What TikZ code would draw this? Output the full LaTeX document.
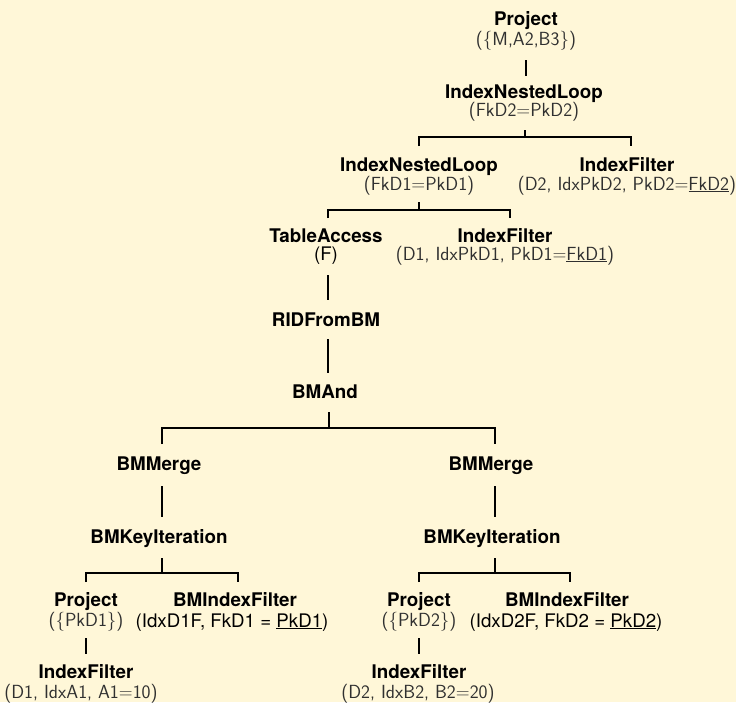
\documentclass[tikz,border=0pt]{standalone}
\usepackage{fontspec}
\setmainfont{TeX Gyre Heros}
\definecolor{paper}{RGB}{255,247,216}
\definecolor{argtext}{RGB}{48,48,48}
\newcommand\opfont{\fontsize{18.8}{22}\selectfont\bfseries}
\newcommand\argfont{\fontsize{19}{22}\selectfont\sffamily}
\newcommand\hargfont{\fontsize{18.7}{22}\selectfont}
\begin{document}
\begin{tikzpicture}[x=1pt,y=-1pt,
  op/.style={font=\opfont,anchor=base,inner sep=0pt},
  arg/.style={font=\argfont,text=argtext,anchor=base,inner sep=0pt},
  harg/.style={font=\hargfont,anchor=base,inner sep=0pt},
  edge/.style={line width=2.6pt,line join=miter,line cap=butt}]
\fill[paper] (0,0) rectangle (736,702);
\useasboundingbox (0,0) rectangle (736,702);

% operators and their arguments
\node[op]  (prj)   at (526,25)  {Project};
\node[arg] (prja)  at (526,45)  {(\{M,A2,B3\})};
\node[op]  (inlA)  at (524,98)  {IndexNestedLoop};
\node[arg] (inlAa) at (524,116) {(FkD2=PkD2)};
\node[op]  (inlB)  at (419,171) {IndexNestedLoop};
\node[arg] (inlBa) at (419,190) {(FkD1=PkD1)};
\node[op]  (ifD2)  at (627,171) {IndexFilter};
\node[arg] (ifD2a) at (627,190) {(D2, IdxPkD2, PkD2=\underline{FkD2})};
\node[op]  (tac)   at (326,242) {TableAccess};
\node[harg](taca)  at (326,260) {(F)};
\node[op]  (ifD1)  at (505,242) {IndexFilter};
\node[arg] (ifD1a) at (505,260) {(D1, IdxPkD1, PkD1=\underline{FkD1})};
\node[op]  (rid)   at (326,326) {RIDFromBM};
\node[op]  (band)  at (325,398) {BMAnd};
\node[op]  (mrgL)  at (159,470) {BMMerge};
\node[op]  (mrgR)  at (491,470) {BMMerge};
\node[op]  (kiL)   at (159,543) {BMKeyIteration};
\node[op]  (kiR)   at (492,543) {BMKeyIteration};
\node[op]  (prL)   at (86,606)  {Project};
\node[arg] (prLa)  at (86,626)  {(\{PkD1\})};
\node[op]  (bmfL)  at (235,606) {BMIndexFilter};
\node[harg](bmfLa) at (232,627) {(IdxD1F, FkD1 = \underline{PkD1})};
\node[op]  (prR)   at (419,606) {Project};
\node[arg] (prRa)  at (419,626) {(\{PkD2\})};
\node[op]  (bmfR)  at (567,606) {BMIndexFilter};
\node[harg](bmfRa) at (566,627) {(IdxD2F, FkD2 = \underline{PkD2})};
\node[op]  (ifA1)  at (86,678)  {IndexFilter};
\node[arg] (ifA1a) at (81,698)  {(D1, IdxA1, A1=10)};
\node[op]  (ifB2)  at (419,678) {IndexFilter};
\node[arg] (ifB2a) at (418,698) {(D2, IdxB2, B2=20)};

% single-child links
\coordinate (p1) at (526,60);  \coordinate (p2) at (526,76);
\draw[edge] (p1) -- (p2);
\coordinate (t1) at (328,275); \coordinate (t2) at (328,300);
\draw[edge] (t1) -- (t2);
\coordinate (r1) at (328,339); \coordinate (r2) at (328,373);
\draw[edge] (r1) -- (r2);
\coordinate (mL1) at (162,486); \coordinate (mL2) at (162,517);
\draw[edge] (mL1) -- (mL2);
\coordinate (mR1) at (495,486); \coordinate (mR2) at (495,517);
\draw[edge] (mR1) -- (mR2);
\coordinate (pL1) at (86,638);  \coordinate (pL2) at (86,654);
\draw[edge] (pL1) -- (pL2);
\coordinate (pR1) at (419,638); \coordinate (pR2) at (419,654);
\draw[edge] (pR1) -- (pR2);

% two-child brackets: stem, bar, and the two ticks
\coordinate (bA) at (525,130); \coordinate (bAl) at (419,146); \coordinate (bAr) at (631,146);
\draw[edge] (bA) -- ++(0,7);
\draw[edge] (bAl) -- ++(0,-9) -| (bAr);
\coordinate (bB) at (419,202); \coordinate (bBl) at (328,218); \coordinate (bBr) at (510,218);
\draw[edge] (bB) -- ++(0,8);
\draw[edge] (bBl) -- ++(0,-8) -| (bBr);
\coordinate (bC) at (329,412); \coordinate (bCl) at (162,444); \coordinate (bCr) at (495,444);
\draw[edge] (bC) -- ++(0,16);
\draw[edge] (bCl) -- ++(0,-16) -| (bCr);
\coordinate (bD) at (162,558); \coordinate (bDl) at (86,582); \coordinate (bDr) at (238,582);
\draw[edge] (bD) -- ++(0,15);
\draw[edge] (bDl) -- ++(0,-9) -| (bDr);
\coordinate (bE) at (495,558); \coordinate (bEl) at (419,582); \coordinate (bEr) at (570,582);
\draw[edge] (bE) -- ++(0,15);
\draw[edge] (bEl) -- ++(0,-9) -| (bEr);
\end{tikzpicture}
\end{document}
